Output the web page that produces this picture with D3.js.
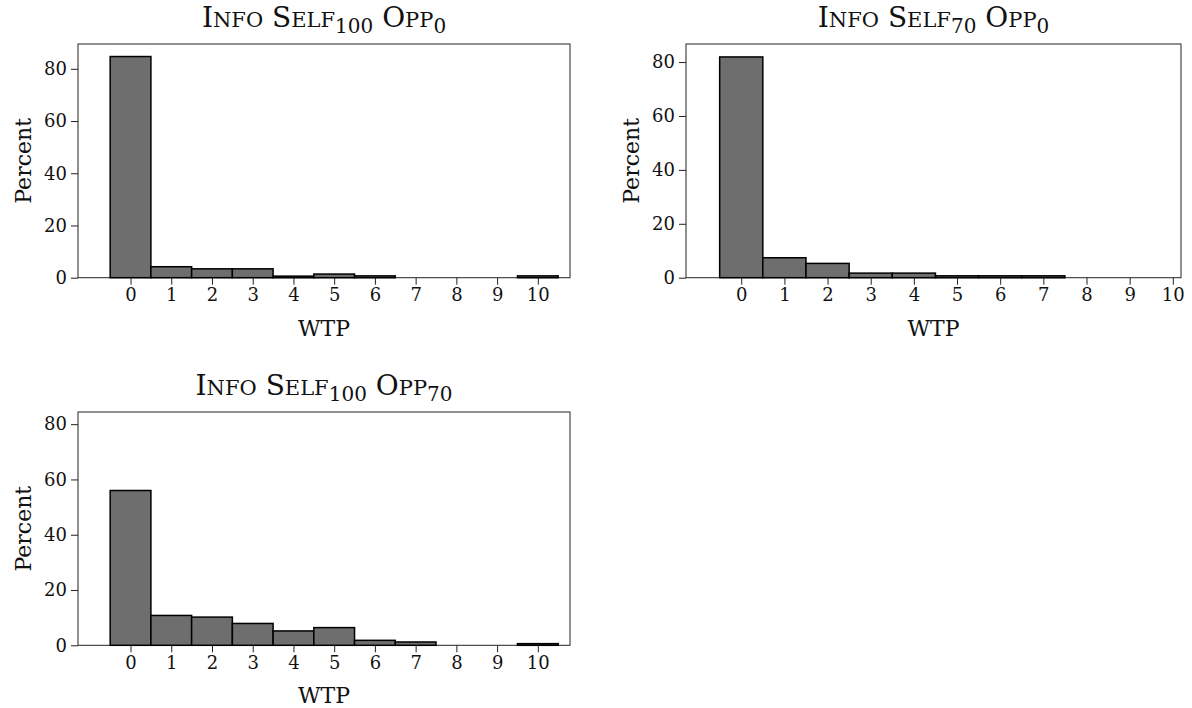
<!DOCTYPE html>
<html>
<head>
<meta charset="utf-8">
<script src="https://cdn.jsdelivr.net/npm/d3@7"></script>
<style>
  body { margin: 0; background: #fff; }
  svg text { font-family: "DejaVu Serif", serif; fill: #111; }
</style>
</head>
<body>
<svg width="1192" height="708"></svg>
<script>
// WTP values (bins) and percent per panel
var wtp = [0, 1, 2, 3, 4, 5, 6, 7, 8, 9, 10];
var self100opp0 = [84.7, 4.2, 3.4, 3.4, 0.6, 1.4, 0.7, 0, 0, 0, 0.7];
var self70opp0 = [81.9, 7.4, 5.3, 1.7, 1.7, 0.7, 0.7, 0.7, 0, 0, 0];
var self100opp70 = [56.0, 10.8, 10.2, 7.9, 5.2, 6.4, 1.8, 1.2, 0, 0, 0.6];
var yTicks = [0, 20, 40, 60, 80];

var svg = d3.select("svg");

// panel layout
var panels = [
  { self: "100", opp: "0",  values: self100opp0,  x0: 78,  x1: 570,  y0: 44,  y1: 277.7, xd: [-1.29, 10.79], ymax: 89.5 },
  { self: "70",  opp: "0",  values: self70opp0,   x0: 686, x1: 1181, y0: 44,  y1: 277.7, xd: [-1.28, 10.19], ymax: 86.7 },
  { self: "100", opp: "70", values: self100opp70, x0: 78,  x1: 570,  y0: 412, y1: 645.3, xd: [-1.29, 10.79], ymax: 84.4 }
];

panels.forEach(drawPanel);

function drawPanel(p) {
  var x = d3.scaleLinear().domain(p.xd).range([p.x0, p.x1]);
  var y = d3.scaleLinear().domain([0, p.ymax]).range([p.y1, p.y0]);
  var g = svg.append("g");

  // frame
  g.append("rect")
    .attr("x", p.x0).attr("y", p.y0)
    .attr("width", p.x1 - p.x0).attr("height", p.y1 - p.y0)
    .attr("fill", "none").attr("stroke", "#222").attr("stroke-width", 1);

  // bars
  var bins = wtp.map(function(d, i) { return { w: d, v: p.values[i] }; })
    .filter(function(d) { return d.v > 0; });
  g.selectAll("rect.bar")
    .data(bins)
  .enter().append("rect")
    .attr("class", "bar")
    .attr("x", function(d) { return x(d.w - 0.5); })
    .attr("width", function(d) { return x(d.w + 0.5) - x(d.w - 0.5); })
    .attr("y", function(d) { return y(d.v); })
    .attr("height", function(d) { return y(0) - y(d.v); })
    .attr("fill", "#6e6e6e")
    .attr("stroke", "#000")
    .attr("stroke-width", 1.5);

  // axes
  var xAxis = g.append("g")
    .attr("transform", "translate(0," + p.y1 + ")")
    .call(d3.axisBottom(x).tickValues(wtp).tickSize(7).tickPadding(4).tickSizeOuter(0));
  var yAxis = g.append("g")
    .attr("transform", "translate(" + p.x0 + ",0)")
    .call(d3.axisLeft(y).tickValues(yTicks).tickSize(7).tickPadding(4).tickSizeOuter(0));
  [xAxis, yAxis].forEach(function(a) {
    a.select(".domain").remove();
    a.selectAll("line").attr("stroke", "#222");
    a.selectAll("text").style("font-family", "DejaVu Serif, serif").style("font-size", "18px").attr("fill", "#111");
  });

  // axis titles
  g.append("text")
    .attr("x", (p.x0 + p.x1) / 2).attr("y", p.y1 + 58)
    .attr("text-anchor", "middle").style("font-size", "22px")
    .text("WTP");
  g.append("text")
    .attr("transform", "translate(" + (p.x0 - 47) + "," + ((p.y0 + p.y1) / 2) + ") rotate(-90)")
    .attr("text-anchor", "middle").style("font-size", "22px")
    .text("Percent");

  // title with small caps and subscripts
  var t = g.append("text")
    .attr("x", (p.x0 + p.x1) / 2).attr("y", p.y0 - 17)
    .attr("text-anchor", "middle").style("font-size", "28px");
  t.append("tspan").text("I");
  t.append("tspan").style("font-size", "21px").text("NFO");
  t.append("tspan").text(" S");
  t.append("tspan").style("font-size", "21px").text("ELF");
  t.append("tspan").style("font-size", "20px").attr("dy", 6).text(p.self);
  t.append("tspan").attr("dy", -6).text(" O");
  t.append("tspan").style("font-size", "21px").text("PP");
  t.append("tspan").style("font-size", "20px").attr("dy", 6).text(p.opp);
}
</script>
</body>
</html>
